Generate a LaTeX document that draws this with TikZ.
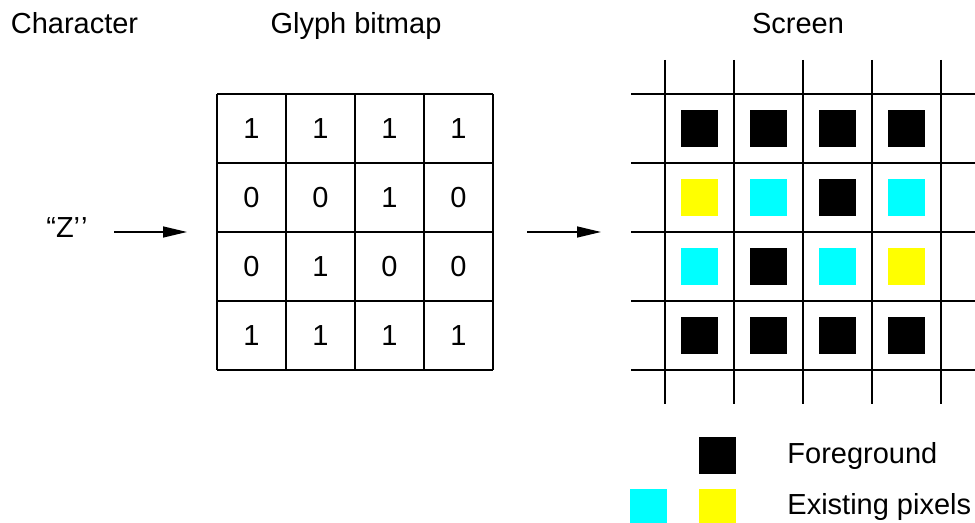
\documentclass[tikz,border=0pt]{standalone}
\usepackage{fontspec}
\setmainfont{Liberation Sans}
\usetikzlibrary{arrows.meta}
\definecolor{pixK}{RGB}{0,0,0}
\definecolor{pixC}{RGB}{0,255,255}
\definecolor{pixY}{RGB}{255,255,0}
\begin{document}
\begin{tikzpicture}[x=0.5pt,y=-0.5pt,
        every node/.style={font=\fontsize{14.5}{17}\selectfont,inner sep=0pt},
        cellline/.style={line width=1pt},
        pixel/.style={minimum size=18.5pt,inner sep=0pt,outer sep=0pt},
        feed/.style={line width=0.7pt,-{Triangle[length=12pt,width=5.5pt]}}]
        \useasboundingbox (0,0) rectangle (975,523);
        % titles
        \node[anchor=base] (tchar) at (74.5,34) {Character};
        \node[anchor=base] (tglyph) at (356,34) {Glyph bitmap};
        \node[anchor=base] (tscreen) at (798,34) {Screen};
        % character
        \node (zq) at (67,228) {“Z’\kern0.5pt’};
        \coordinate (in1) at (114,232);
        \coordinate (out1) at (187,232);
        \draw[feed] (in1) -- (out1);
        % glyph bitmap
        \foreach \k in {0,1,2,3,4} {
            \draw[cellline] (217+69*\k,94) -- (217+69*\k,370);
            \draw[cellline] (217,94+69*\k) -- (493,94+69*\k);
        }
        \foreach \row [count=\j from 0] in {{1,1,1,1},{0,0,1,0},{0,1,0,0},{1,1,1,1}}
            \foreach \v [count=\i from 0] in \row
                \node (g-\i-\j) at (251.5+69*\i,128.5+69*\j) {\v};
        \coordinate (in2) at (527,232);
        \coordinate (out2) at (601,232);
        \draw[feed] (in2) -- (out2);
        % screen
        \foreach \k in {0,1,2,3,4} {
            \draw[cellline] (665+69*\k,60) -- (665+69*\k,404);
            \draw[cellline] (631,94+69*\k) -- (975,94+69*\k);
        }
        \foreach \row [count=\j from 0] in {{K,K,K,K},{Y,C,K,C},{C,K,C,Y},{K,K,K,K}}
            \foreach \c [count=\i from 0] in \row
                \node[pixel,fill=pix\c] (s-\i-\j) at (699.5+69*\i,128.5+69*\j) {};
        % legend
        \node[pixel,fill=pixK] (lgK) at (717,455.5) {};
        \node[pixel,fill=pixC] (lgC) at (648,507.5) {};
        \node[pixel,fill=pixY] (lgY) at (717,507.5) {};
        \node[anchor=base west] (lfore) at (787,464) {Foreground};
        \node[anchor=base west] (lexist) at (787,515) {Existing pixels};
    \end{tikzpicture}
\end{document}
